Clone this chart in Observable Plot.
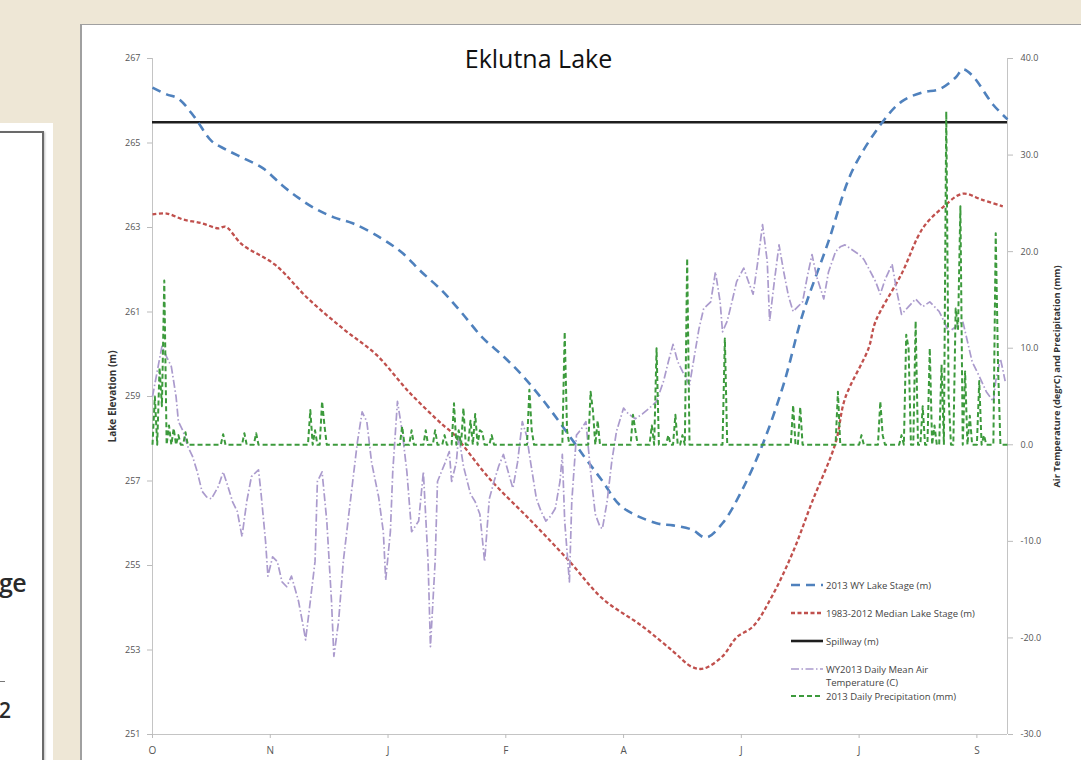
<!DOCTYPE html>
<html><head><meta charset="utf-8">
<script src="https://cdn.jsdelivr.net/npm/d3@7"></script>
<script src="https://cdn.jsdelivr.net/npm/@observablehq/plot@0.6"></script>
<style>
html,body{margin:0;padding:0;}
body{width:1081px;height:760px;overflow:hidden;background:#eee7d6;position:relative;font-family:"Liberation Sans",Arial,sans-serif;}
#sideOuter{position:absolute;left:-10px;top:123px;width:63px;height:660px;background:#fff;}
#side{position:absolute;left:-10px;top:131px;width:52px;height:660px;background:#fff;border-top:2px solid #6a6a6a;border-right:2px solid #6a6a6a;box-shadow:1px 1px 2px rgba(0,0,0,0.25);}
#side .t1{position:absolute;left:9px;top:432px;font-size:25px;font-weight:600;color:#2a2a2a;font-family:"Open Sans",sans-serif;letter-spacing:-0.5px;}
#side .ln{position:absolute;left:9px;top:548px;width:6px;border-top:1px solid #777;}
#side .t2{position:absolute;left:9px;top:563px;font-size:21px;font-weight:600;color:#2a2a2a;font-family:"Open Sans",sans-serif;}
#panel{position:absolute;left:80px;top:24px;width:1010px;height:750px;background:#fff;border:1px solid #a0a0a0;border-width:1px 0 0 2px;}
#chart{position:absolute;left:0;top:0;}
#title{position:absolute;left:0;width:913px;top:16px;text-align:center;font-size:25px;color:#111;font-family:"Open Sans",sans-serif;}
#legend{position:absolute;left:708px;top:554px;font-size:9.5px;color:#444;font-family:"Open Sans",sans-serif;}
#legend .row{display:flex;align-items:flex-start;height:28px;}
#legend .row svg{flex:none;margin-right:3px;}
#legend .row span{line-height:13px;}
</style>
</head><body>
<div id="sideOuter"></div>
<div id="side"><div class="t1">ge</div><div class="ln"></div><div class="t2">2</div></div>
<div id="panel"><div id="chart"></div><div id="title">Eklutna Lake</div><div id="legend"></div></div>
<script>
// ---- data ----
// x = day of water year (0 = 1 Oct 2012)
const xTicks = [0, 50, 100, 150, 200, 250, 300, 350];
const xLabels = ["O", "N", "J", "F", "A", "J", "J", "S"];
const leftTicks = [251, 253, 255, 257, 259, 261, 263, 265, 267];
const rightTicks = [-30, -20, -10, 0, 10, 20, 30, 40];

const spillway = 265.49;

const stageDays = [0,6,11,18,25,31,39,47,55,62,69,77,85,97,106,114,123,131,140,149,157,166,174,183,191,199,214,221,229,235,242,250,259,268,276,287,297,310,318,327,334,341,344,348,357,363];
const stageVals = [266.31,266.15,266.05,265.6,265.05,264.85,264.63,264.4,264.0,263.7,263.45,263.24,263.1,262.75,262.4,261.96,261.5,261.0,260.4,259.95,259.5,258.9,258.3,257.6,257.0,256.4,256.0,255.95,255.85,255.66,256.0,256.75,257.86,259.3,260.94,262.67,264.33,265.5,265.98,266.2,266.27,266.55,266.74,266.6,265.9,265.56];

const medianDays = [0,6,13,21,28,31,38,52,66,81,95,109,123,128,143,161,177,191,208,221,229,234,242,248,255,263,272,280,290,294,304,307,318,327,335,344,352,361];
const medianVals = [263.31,263.33,263.19,263.1,262.98,263.02,262.6,262.12,261.32,260.6,259.99,259.1,258.34,258.1,257.06,256.04,255.1,254.22,253.56,252.97,252.6,252.56,252.85,253.3,253.56,254.27,255.33,256.5,257.9,258.95,260.14,260.78,261.9,262.98,263.45,263.8,263.66,263.5];

const tempDays = [0,2,4,6,8,10,11,13,15,17,19,21,23,25,28,30,32,34,36,38,40,42,45,46,48,49,51,53,55,57,59,62,64,65,67,69,70,72,74,76,77,79,81,83,85,87,89,91,93,96,98,99,101,102,104,106,108,110,113,115,117,118,120,121,124,126,127,129,130,132,135,137,139,141,143,145,147,149,151,153,155,157,159,160,163,165,167,169,171,173,174,175,177,178,180,182,184,186,188,190,191,193,195,197,200,202,205,208,211,214,217,219,221,223,225,228,230,232,234,237,239,241,242,244,246,248,251,253,255,257,259,261,262,264,266,268,270,272,274,276,278,280,282,285,287,290,292,294,297,300,302,304,307,309,311,314,316,318,321,324,327,330,332,334,336,338,341,344,346,348,351,354,357,358,360,361,362];
const tempVals = [5.0,7.6,10.2,9.1,8.1,5.0,2.4,1.4,-0.2,-1.2,-2.8,-4.8,-5.4,-5.6,-4.3,-2.8,-4.3,-5.9,-6.9,-9.5,-5.9,-3.3,-2.6,-4.8,-10.0,-13.6,-11.6,-12.1,-14.2,-14.7,-13.6,-16.2,-18.8,-20.2,-16.2,-12.1,-3.8,-2.8,-7.9,-16.2,-21.9,-18.3,-12.1,-7.9,-3.8,0.3,3.4,2.4,-1.8,-5.4,-9.0,-14.0,-9.0,-2.8,4.5,1.4,-2.8,-9.0,-7.9,-2.8,-12.1,-20.9,-12.1,-3.8,-2.0,-0.7,-3.8,-1.8,1.0,-2.2,-5.1,-5.9,-7.2,-12.1,-5.6,-3.8,-2.2,-1.0,-2.8,-4.5,-1.8,2.4,0.8,-1.0,-5.6,-6.9,-7.9,-7.4,-6.6,-3.8,-1.0,-7.9,-14.2,-5.9,1.0,1.6,2.4,-2.8,-7.2,-8.5,-8.7,-5.9,-1.7,1.4,3.8,3.2,2.7,3.2,3.8,4.5,6.6,8.6,10.4,8.6,7.6,6.2,9.1,12.0,14.1,14.8,17.9,14.8,11.7,12.8,14.8,16.9,18.3,16.9,15.6,19.0,22.8,19.0,12.8,16.9,20.7,17.9,15.4,13.8,14.3,14.8,17.4,19.7,17.4,15.1,17.9,20.0,20.5,20.7,20.2,19.7,19.2,18.3,16.9,15.6,17.1,18.7,15.9,13.5,14.3,15.1,14.3,14.8,14.3,13.8,12.8,11.7,12.2,12.8,10.7,8.6,7.1,5.5,4.5,6.6,8.9,7.8,6.6];

// days with precipitation (all other days 0 mm)
const precipDays = [1,3,4,5,7,9,11,14,30,39,44,67,69,72,73,106,110,116,120,124,128,130,132,135,137,139,140,144,160,161,175,176,186,187,189,204,205,212,214,219,222,225,227,243,272,275,291,301,309,310,318,320,321,324,327,330,332,335,337,338,341,342,343,345,347,351,353,358,359];
const precipVals = [5.0,8.0,4.0,17.0,2.0,1.7,1.0,1.3,1.1,1.2,1.2,3.6,1.5,4.5,2.0,1.9,1.5,1.5,1.5,1.0,4.3,1.5,3.8,2.5,3.2,1.5,1.3,1.0,5.7,1.5,11.7,1.5,5.5,3.5,2.5,3.1,1.5,2.0,10.0,1.0,3.1,1.0,19.3,11.0,4.1,3.9,5.5,1.0,4.5,1.0,1.0,11.4,10.0,12.8,4.0,10.0,2.0,8.3,34.5,5.0,14.1,12.0,24.7,7.6,3.0,6.6,1.0,21.9,8.0];

const series = [
  {name: "2013 WY Lake Stage (m)", color: "#4f81bd", width: 2.6, dash: "9,6"},
  {name: "1983-2012 Median Lake Stage (m)", color: "#c0504d", width: 2.3, dash: "4,2.5"},
  {name: "Spillway (m)", color: "#1e1e1e", width: 2.6, dash: null},
  {name: "WY2013 Daily Mean Air Temperature (C)", color: "#ab9bcd", width: 1.7, dash: "8,2.5,1.5,2.5"},
  {name: "2013 Daily Precipitation (mm)", color: "#3c9a3c", width: 2, dash: "5,3"}
];

// ---- build ----
const yMin = 251, yMax = 267, rMin = -30, rMax = 40;
const toElev = v => yMin + (v - rMin) * (yMax - yMin) / (rMax - rMin);
const fromElev = e => (e - yMin) * (rMax - rMin) / (yMax - yMin) + rMin;
const fmtRight = e => (Math.round(fromElev(e) * 10) / 10 + 0).toFixed(1);

const stage = stageDays.map((d, i) => ({day: d, v: stageVals[i]}));
const median = medianDays.map((d, i) => ({day: d, v: medianVals[i]}));
const temp = tempDays.map((d, i) => ({day: d, v: toElev(tempVals[i])}));
const pMap = new Map(precipDays.map((d, i) => [d, precipVals[i]]));
const precip = d3.range(0, 364).map(d => ({day: d, v: toElev(pMap.get(d) ?? 0)}));

const font = "'Open Sans', 'Liberation Sans', sans-serif";
const lineOpts = s => ({x: "day", y: "v", stroke: s.color, strokeWidth: s.width, strokeDasharray: s.dash, strokeLinecap: "butt", strokeLinejoin: "round"});

const chart = Plot.plot({
  width: 1001, height: 736,
  marginLeft: 70, marginRight: 76, marginTop: 33, marginBottom: 27,
  style: {fontFamily: font, fontSize: "9px", background: "transparent", overflow: "visible"},
  x: {domain: [0, 363]},
  y: {domain: [yMin, yMax]},
  marks: [
    Plot.ruleX([0], {stroke: "#c4c4c4"}),
    Plot.ruleX([363], {stroke: "#c4c4c4"}),
    Plot.ruleY([yMin], {stroke: "#c4c4c4"}),
    Plot.axisY(leftTicks, {anchor: "left", tickSize: 5, tickPadding: 7, stroke: "#bbb", fill: "#555", label: null, tickFormat: d => String(d)}),
    Plot.axisY(rightTicks.map(toElev), {anchor: "right", tickSize: 5, tickPadding: 8, stroke: "#bbb", fill: "#555", label: null, tickFormat: fmtRight}),
    Plot.axisX(xTicks, {anchor: "bottom", tickSize: 4, tickPadding: 8, stroke: "#bbb", fill: "#555", label: null, fontSize: 10, tickFormat: d => xLabels[xTicks.indexOf(d)]}),
    Plot.text(["Lake Elevation (m)"], {frameAnchor: "left", textAnchor: "middle", rotate: -90, dx: -40, fontWeight: "bold", fill: "#333", fontSize: 10}),
    Plot.text(["Air Temperature (degrC) and Precipitation (mm)"], {frameAnchor: "right", textAnchor: "middle", rotate: -90, dx: 50, dy: -20, fontWeight: "bold", fill: "#333", fontSize: 9.3}),
    Plot.ruleY([spillway], {stroke: series[2].color, strokeWidth: series[2].width}),
    Plot.line(stage, {...lineOpts(series[0]), curve: "catmull-rom"}),
    Plot.line(median, {...lineOpts(series[1]), curve: "catmull-rom"}),
    Plot.line(temp, lineOpts(series[3])),
    Plot.line(precip, lineOpts(series[4]))
  ]
});
document.getElementById("chart").appendChild(chart);

// legend
const leg = d3.select("#legend");
const rowH = [28, 28, 28, 27, 20];
series.forEach((s, i) => {
  const row = leg.append("div").attr("class", "row").style("height", rowH[i] + "px");
  const svg = row.append("svg").attr("width", 33).attr("height", 12);
  svg.append("line").attr("x1", 1).attr("x2", 33).attr("y1", 6).attr("y2", 6)
    .attr("stroke", s.color).attr("stroke-width", s.width)
    .attr("stroke-dasharray", s.dash);
  const label = i === 3 ? "WY2013 Daily Mean Air<br>Temperature (C)" : s.name;
  row.append("span").html(label);
});
</script>
</body></html>
